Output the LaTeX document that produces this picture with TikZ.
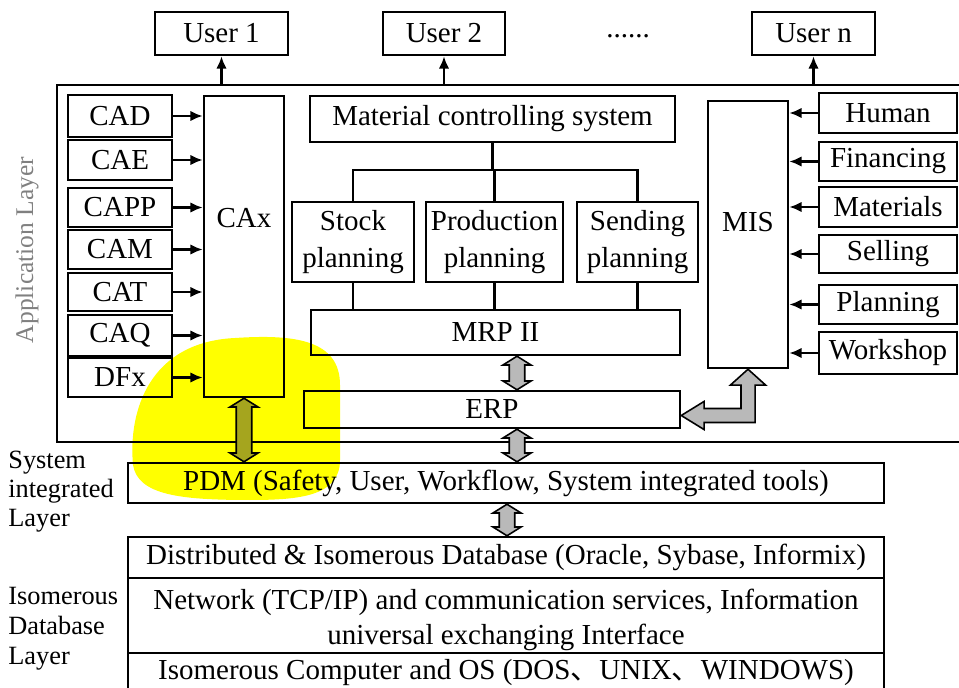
\documentclass[tikz,border=0pt]{standalone}
\usepackage{fontspec}
\setmainfont{Liberation Serif}
\newfontfamily\cjk{Noto Sans CJK SC}
\usepackage{tikz}
\usetikzlibrary{shapes,fit}
\usetikzlibrary{positioning, arrows.meta, calc}
\usetikzlibrary{arrows}
\definecolor{hilite}{RGB}{255,255,0}
\definecolor{fatgray}{RGB}{185,185,185}
\definecolor{fatolive}{RGB}{165,165,30}

\begin{document}
\begin{tikzpicture}[>={Latex[length=7pt,width=6pt]}, x=0.02cm, y=-0.02cm, font=\fontsize{16.5}{20}\selectfont]
    \tikzstyle{blk} = [draw, line width=1.4pt, inner sep=0pt]
    \tikzstyle{txt} = [inner sep=0pt, align=center]
    \tikzstyle{conn} = [line width=1.4pt]
    \tikzstyle{two} = [align=center, font=\fontsize{16.5}{21.5}\selectfont]
    \tikzstyle{fat} = [draw, line width=0.9pt, fill=fatgray, to path={let \p1=(\tikztostart), \p2=(\tikztotarget) in ({\x1},{\y1}) -- ({\x1+8pt},{\y1-5pt}) -- ({\x1+4.4pt},{\y1-5pt}) -- ({\x1+4.4pt},{\y2+5pt}) -- ({\x1+8pt},{\y2+5pt}) -- ({\x1},{\y2}) -- ({\x1-8pt},{\y2+5pt}) -- ({\x1-4.4pt},{\y2+5pt}) -- ({\x1-4.4pt},{\y1-5pt}) -- ({\x1-8pt},{\y1-5pt}) -- cycle}]

    \useasboundingbox (0,0) rectangle (959,688);

    % highlighter mark
    \fill[hilite] (235,338) .. controls (295,334) and (340,340) .. (340,385) -- (340,460) .. controls (340,496) and (300,500) .. (250,500) .. controls (180,500) and (138,495) .. (133,465) .. controls (128,410) and (150,342) .. (235,338) -- cycle;

    % users
    \node[blk, fit={(155,12) (288,55)}, label=center:User 1] (u1) {};
    \node[blk, fit={(383,12) (505,55)}, label=center:User 2] (u2) {};
    \node[txt] (dots) at (628,36) {......};
    \node[blk, fit={(752,12) (875,55)}, label=center:User n] (un) {};

    % application layer
    \node[blk, fit={(57,85) (962,442)}] (app) {};
    \node[txt, rotate=90, text=gray, font=\fontsize{14.5}{17}\selectfont] (applbl) at (27,250) {Application Layer};
    \draw[->, conn] (u1.south |- app.north) -- (u1.south);
    \draw[->, conn] (u2.south |- app.north) -- (u2.south);
    \draw[->, conn] (un.south |- app.north) -- (un.south);

    % CAx column
    \node[blk, fit={(68,95) (172,137)}, label=center:CAD] (cad) {};
    \node[blk, fit={(68,140) (172,180)}, label=center:CAE] (cae) {};
    \node[blk, fit={(68,188) (172,227)}, label=center:CAPP] (capp) {};
    \node[blk, fit={(68,230) (172,269)}, label=center:CAM] (cam) {};
    \node[blk, fit={(68,273) (172,311)}, label=center:CAT] (cat) {};
    \node[blk, fit={(68,315) (172,356)}, label=center:CAQ] (caq) {};
    \node[blk, fit={(68,358) (172,397)}, label=center:DFx] (dfx) {};
    \node[blk, fit={(204,96) (284,397)}] (cax) {};
    \node[txt] (caxlbl) at (244,218) {CAx};
    \draw[->, conn] (cad.east) -- (cad.east -| cax.west);
    \draw[->, conn] (cae.east) -- (cae.east -| cax.west);
    \draw[->, conn] (capp.east) -- (capp.east -| cax.west);
    \draw[->, conn] (cam.east) -- (cam.east -| cax.west);
    \draw[->, conn] (cat.east) -- (cat.east -| cax.west);
    \draw[->, conn] (caq.east) -- (caq.east -| cax.west);
    \draw[->, conn] (dfx.east) -- (dfx.east -| cax.west);

    % planning tree
    \node[blk, fit={(310,96) (675,142)}, label=center:Material controlling system] (mcs) {};
    \node[blk, fit={(292,202) (414,282)}, label={[two]center:Stock\\planning}] (stock) {};
    \node[blk, fit={(426,202) (563,282)}, label={[two]center:Production\\planning}] (prod) {};
    \node[blk, fit={(577,202) (698,282)}, label={[two]center:Sending\\planning}] (send) {};
    \coordinate (br) at ($(mcs.south)+(0,27)$);
    \draw[conn] (mcs.south) -- (br);
    \draw[conn] (stock.north) |- (br) -| (send.north);
    \draw[conn] (prod.north |- br) -- (prod.north);
    \node[blk, fit={(311,310) (680,355)}, label=center:MRP II] (mrp) {};
    \draw[conn] (stock.south) -- (stock.south |- mrp.north);
    \draw[conn] (prod.south) -- (prod.south |- mrp.north);
    \draw[conn] (send.south) -- (send.south |- mrp.north);
    \node[blk, fit={(304,391) (680,428)}, label=center:ERP] (erp) {};

    % MIS column
    \node[blk, fit={(708,101) (788,368)}] (mis) {};
    \node[txt] (mislbl) at (748,222) {MIS};
    \node[blk, fit={(819,93) (957,133)}, label=center:Human] (human) {};
    \node[blk, fit={(819,142) (957,181)}, label=center:Financing] (fin) {};
    \node[blk, fit={(819,187) (957,227)}, label=center:Materials] (mat) {};
    \node[blk, fit={(819,235) (957,273)}, label=center:Selling] (sell) {};
    \node[blk, fit={(819,285) (957,324)}, label=center:Planning] (plan) {};
    \node[blk, fit={(819,332) (957,374)}, label=center:Workshop] (work) {};
    \draw[->, conn] (human.west) -- (human.west -| mis.east);
    \draw[->, conn] (fin.west) -- (fin.west -| mis.east);
    \draw[->, conn] (mat.west) -- (mat.west -| mis.east);
    \draw[->, conn] (sell.west) -- (sell.west -| mis.east);
    \draw[->, conn] (plan.west) -- (plan.west -| mis.east);
    \draw[->, conn] (work.west) -- (work.west -| mis.east);

    % lower layers
    \node[txt, anchor=west, align=left, font=\fontsize{15}{16.5}\selectfont] (silbl) at (8,492) {System\\integrated\\Layer};
    \node[blk, fit={(128,463) (884,503)}, label={center:PDM (Safety, User, Workflow, System integrated tools)}] (pdm) {};
    \node[txt, anchor=west, align=left, font=\fontsize{15}{17}\selectfont] (idlbl) at (8,629) {Isomerous\\Database\\Layer};
    \node[blk, fit={(128,537) (884,578)}, label={center:Distributed \& Isomerous Database (Oracle, Sybase, Informix)}] (db) {};
    \node[blk, fit={(128,578) (884,653)}, label={[align=center, yshift=-0.08cm]center:Network (TCP/IP) and communication services, Information\\universal exchanging Interface}] (net) {};
    \node[blk, fit={(128,653) (884,693)}, label={center:Isomerous Computer and OS (DOS{\cjk 、}UNIX{\cjk 、}WINDOWS)}] (os) {};

    % hollow arrows
    \coordinate (midx) at (517,0);
    \coordinate (lowx) at (507,0);
    \draw[fat, fill=fatolive] (cax.south) to (cax.south |- pdm.north);
    \draw[fat] (mrp.south -| midx) to (erp.north -| midx);
    \draw[fat] (erp.south -| midx) to (pdm.north -| midx);
    \draw[fat] (pdm.south -| lowx) to (db.north -| lowx);
    \draw[fat] let \p1=(mis.south), \p2=($(erp.east)+(0,6)$) in (\p1) -- ({\x1+10pt},{\y1-9pt}) -- ({\x1+4pt},{\y1-9pt}) -- ({\x1+4pt},{\y2-4pt}) -- ({\x2+13pt},{\y2-4pt}) -- ({\x2+13pt},{\y2-8pt}) -- (\p2) -- ({\x2+13pt},{\y2+8pt}) -- ({\x2+13pt},{\y2+4pt}) -- ({\x1-4pt},{\y2+4pt}) -- ({\x1-4pt},{\y1-9pt}) -- ({\x1-10pt},{\y1-9pt}) -- cycle;
\end{tikzpicture}
\end{document}
